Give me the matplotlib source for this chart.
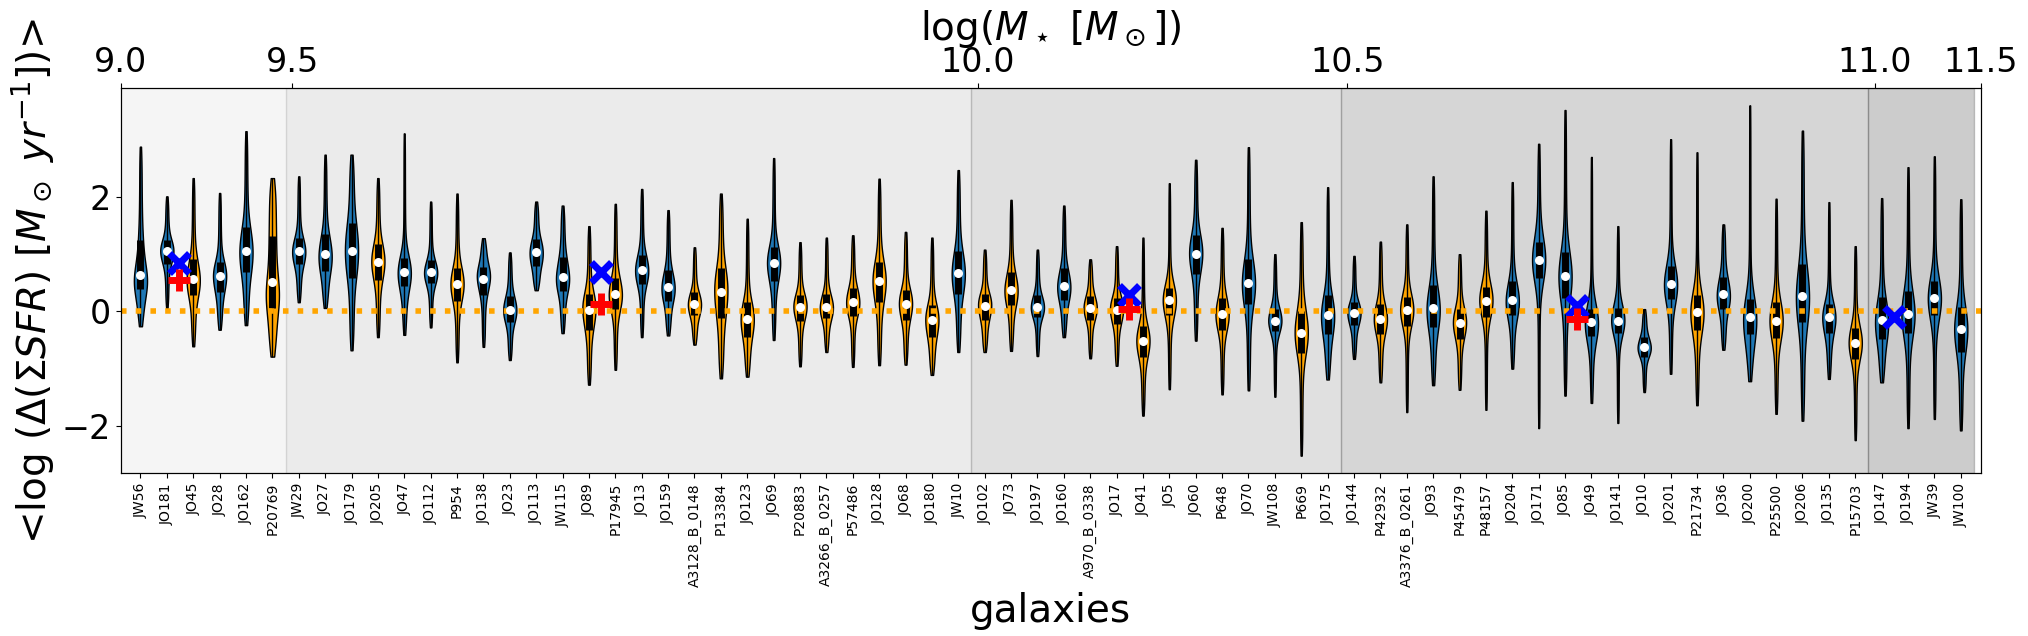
import numpy as np
import matplotlib
matplotlib.use('Agg')
import matplotlib.pyplot as plt

# galaxy names, in order of stellar mass
galaxies = ['JW56', 'JO181', 'JO45', 'JO28', 'JO162', 'P20769', 'JW29', 'JO27', 'JO179', 'JO205',
            'JO47', 'JO112', 'P954', 'JO138', 'JO23', 'JO113', 'JW115', 'JO89', 'P17945', 'JO13',
            'JO159', 'A3128_B_0148', 'P13384', 'JO123', 'JO69', 'P20883', 'A3266_B_0257', 'P57486', 'JO128', 'JO68',
            'JO180', 'JW10', 'JO102', 'JO73', 'JO197', 'JO160', 'A970_B_0338', 'JO17', 'JO41', 'JO5',
            'JO60', 'P648', 'JO70', 'JW108', 'P669', 'JO175', 'JO144', 'P42932', 'A3376_B_0261', 'JO93',
            'P45479', 'P48157', 'JO204', 'JO171', 'JO85', 'JO49', 'JO141', 'JO10', 'JO201', 'P21734',
            'JO36', 'JO200', 'P25500', 'JO206', 'JO135', 'P15703', 'JO147', 'JO194', 'JW39', 'JW100']

# B = blue violin, O = orange violin
kind = list('BBOBBOBBBO'
            'BBOBBBBOOB'
            'BOOOBOOOOO'
            'OBOOBBOOOO'
            'BOBBOBBOOB'
            'OOBBBBBBBO'
            'BBOBBOBBBB')

# distribution of log(Delta SFR) per galaxy: min, q1, median, q3, max
v_min = [-0.26, 0.06, -0.61, -0.32, -0.24, -0.79, 0.16, 0.06, -0.68, -0.45,
         -0.41, -0.28, -0.89, -0.62, -0.85, 0.37, -0.38, -1.28, -1.02, -0.45,
         -0.42, -0.58, -1.17, -1.14, -0.50, -0.96, -0.71, -0.97, -0.94, -0.93,
         -1.11, -0.71, -0.71, -0.69, -0.78, -0.45, -0.82, -0.95, -1.82, -1.36,
         -0.51, -1.45, -1.38, -1.49, -2.52, -1.19, -0.83, -1.24, -1.76, -1.29,
         -1.37, -1.72, -1.00, -2.04, -1.47, -1.60, -1.95, -1.41, -1.09, -1.64,
         -0.67, -1.22, -1.79, -1.91, -1.18, -2.25, -1.24, -2.04, -1.88, -2.08]
v_q1 = [0.40, 0.83, 0.29, 0.34, 0.68, 0.06, 0.82, 0.71, 0.59, 0.55,
        0.44, 0.49, 0.19, 0.28, -0.19, 0.80, 0.35, -0.32, 0.04, 0.48,
        0.19, -0.07, -0.12, -0.44, 0.54, -0.16, -0.12, -0.08, 0.17, -0.15,
        -0.45, 0.31, -0.15, 0.12, -0.10, 0.20, -0.15, -0.22, -0.79, -0.06,
        0.66, -0.32, 0.13, -0.35, -0.72, -0.39, -0.24, -0.39, -0.25, -0.28,
        -0.48, -0.09, -0.06, 0.59, 0.23, -0.43, -0.37, -0.79, 0.22, -0.33,
        0.04, -0.40, -0.47, -0.19, -0.37, -0.83, -0.48, -0.38, -0.07, -0.71]
v_med = [0.64, 1.05, 0.57, 0.62, 1.06, 0.51, 1.05, 1.00, 1.06, 0.87,
         0.69, 0.68, 0.48, 0.57, 0.03, 1.03, 0.61, 0.03, 0.30, 0.72,
         0.43, 0.13, 0.34, -0.13, 0.85, 0.08, 0.08, 0.16, 0.53, 0.13,
         -0.15, 0.67, 0.10, 0.38, 0.08, 0.45, 0.06, 0.03, -0.51, 0.20,
         1.01, -0.05, 0.50, -0.16, -0.37, -0.06, -0.03, -0.13, 0.02, 0.06,
         -0.20, 0.19, 0.20, 0.89, 0.62, -0.19, -0.16, -0.63, 0.48, -0.01,
         0.30, -0.10, -0.16, 0.27, -0.10, -0.55, -0.15, -0.04, 0.23, -0.31]
v_q3 = [1.24, 1.24, 0.92, 0.87, 1.48, 1.32, 1.29, 1.36, 1.54, 1.17,
        0.94, 0.89, 0.76, 0.78, 0.27, 1.27, 0.95, 0.31, 0.59, 0.99,
        0.72, 0.34, 0.75, 0.17, 1.13, 0.29, 0.31, 0.41, 0.87, 0.38,
        0.12, 1.05, 0.31, 0.69, 0.29, 0.75, 0.27, 0.24, -0.26, 0.41,
        1.33, 0.24, 0.92, 0.05, 0.00, 0.29, 0.16, 0.13, 0.25, 0.47,
        0.05, 0.43, 0.54, 1.21, 1.03, 0.05, 0.06, -0.45, 0.80, 0.29,
        0.61, 0.22, 0.16, 0.83, 0.13, -0.29, 0.25, 0.36, 0.54, 0.08]
v_max = [2.88, 2.01, 2.33, 2.07, 3.15, 2.33, 2.36, 2.74, 2.74, 2.33,
         3.11, 1.92, 2.06, 1.28, 1.03, 1.92, 1.85, 1.49, 1.88, 2.14,
         1.77, 1.12, 2.06, 1.62, 2.68, 1.21, 1.29, 1.33, 2.32, 1.39,
         1.29, 2.47, 1.08, 1.95, 1.08, 1.85, 0.91, 1.14, 1.29, 2.24,
         2.65, 1.46, 2.87, 1.00, 1.56, 2.17, 0.97, 1.22, 1.52, 2.36,
         1.00, 1.76, 2.26, 2.93, 3.52, 2.70, 1.49, 0.04, 3.01, 2.78,
         1.52, 3.60, 1.97, 3.16, 1.91, 1.14, 1.98, 2.52, 2.71, 1.96]

# extra markers (between galaxies)
plus_x = [1.45, 17.45, 37.47, 54.45]
plus_y = [0.55, 0.13, 0.04, -0.13]
cross_x = [1.45, 17.45, 37.47, 54.45, 66.47]
cross_y = [0.85, 0.69, 0.29, 0.09, -0.10]

# stellar mass bins on the top axis
mass_edges = [-1.0, 5.5, 31.5, 45.5, 65.5, 69.5]
mass_ticks = [-0.75, 5.75, 31.75, 45.75, 65.75, 69.75]
mass_labels = ['9.0', '9.5', '10.0', '10.5', '11.0', '11.5']

colors = {'B': '#1f77b4', 'O': 'orange'}


def pchip(x, y, xn):
    # monotone cubic through the quantiles (Fritsch-Carlson)
    x = np.asarray(x, float)
    y = np.asarray(y, float)
    h = np.diff(x)
    d = np.diff(y) / h
    m = np.zeros_like(y)
    for k in range(1, len(x) - 1):
        if d[k - 1] * d[k] > 0:
            w1 = 2 * h[k] + h[k - 1]
            w2 = h[k] + 2 * h[k - 1]
            m[k] = (w1 + w2) / (w1 / d[k - 1] + w2 / d[k])
    m[0] = ((2 * h[0] + h[1]) * d[0] - h[0] * d[1]) / (h[0] + h[1])
    if m[0] * d[0] <= 0:
        m[0] = 0
    elif d[0] * d[1] <= 0 and abs(m[0]) > 3 * abs(d[0]):
        m[0] = 3 * d[0]
    m[-1] = ((2 * h[-1] + h[-2]) * d[-1] - h[-1] * d[-2]) / (h[-1] + h[-2])
    if m[-1] * d[-1] <= 0:
        m[-1] = 0
    elif d[-1] * d[-2] <= 0 and abs(m[-1]) > 3 * abs(d[-1]):
        m[-1] = 3 * d[-1]
    k = np.clip(np.searchsorted(x, xn, side='right') - 1, 0, len(x) - 2)
    t = (xn - x[k]) / h[k]
    h00 = 2 * t**3 - 3 * t**2 + 1
    h10 = t**3 - 2 * t**2 + t
    h01 = -2 * t**3 + 3 * t**2
    h11 = t**3 - t**2
    return h00 * y[k] + h10 * h[k] * m[k] + h01 * y[k + 1] + h11 * h[k] * m[k + 1]


# build a sample for each galaxy from its quantiles
data = []
for i in range(len(galaxies)):
    q = [v_min[i], v_q1[i], v_med[i], v_q3[i], v_max[i]]
    data.append(pchip([0, 0.25, 0.5, 0.75, 1], q, np.linspace(0, 1, 301)))

pos = np.arange(len(galaxies))

fig = plt.figure(figsize=(20.28, 6.36), dpi=100)
ax = fig.add_axes([0.0595, 0.2558, 0.9171, 0.6054])

for k in range(5):
    ax.axvspan(mass_edges[k], mass_edges[k + 1], color='k', alpha=0.04 * (k + 1), zorder=0)

parts = ax.violinplot(data, positions=pos, widths=0.5, showmeans=False,
                      showmedians=False, showextrema=False)
for pc, kd in zip(parts['bodies'], kind):
    pc.set_facecolor(colors[kd])
    pc.set_edgecolor('black')
    pc.set_linewidth(1)
    pc.set_alpha(1)

ax.vlines(pos, v_min, v_max, color='k', linestyle='-', lw=1)
ax.vlines(pos, v_q1, v_q3, color='k', linestyle='-', lw=5)
ax.scatter(pos, v_med, marker='o', color='white', s=30, zorder=3)

ax.axhline(0, color='orange', ls=':', lw=4)

ax.plot(cross_x, cross_y, 'x', color='blue', ms=14, mew=5, zorder=4)
ax.plot(plus_x, plus_y, '+', color='red', ms=16, mew=5, zorder=5)

ax.set_xlim(-0.75, 69.75)
ax.set_ylim(-2.83, 3.9)
ax.set_xticks(pos)
ax.set_xticklabels(galaxies, rotation=90, fontsize=10)
ax.set_yticks([-2, 0, 2])
ax.tick_params(axis='y', labelsize=24)
ax.set_xlabel('galaxies', fontsize=28)
ax.set_ylabel(r'<log ($\Delta(\Sigma SFR)$ [$M_\odot$ $yr^{-1}$])>', fontsize=28)

ax2 = ax.twiny()
ax2.set_xlim(ax.get_xlim())
ax2.set_xticks(mass_ticks)
ax2.set_xticklabels(mass_labels, fontsize=24)
ax2.set_xlabel(r'log($M_\star$ [$M_\odot$])', fontsize=28)

fig.savefig('out.png', dpi=100)
